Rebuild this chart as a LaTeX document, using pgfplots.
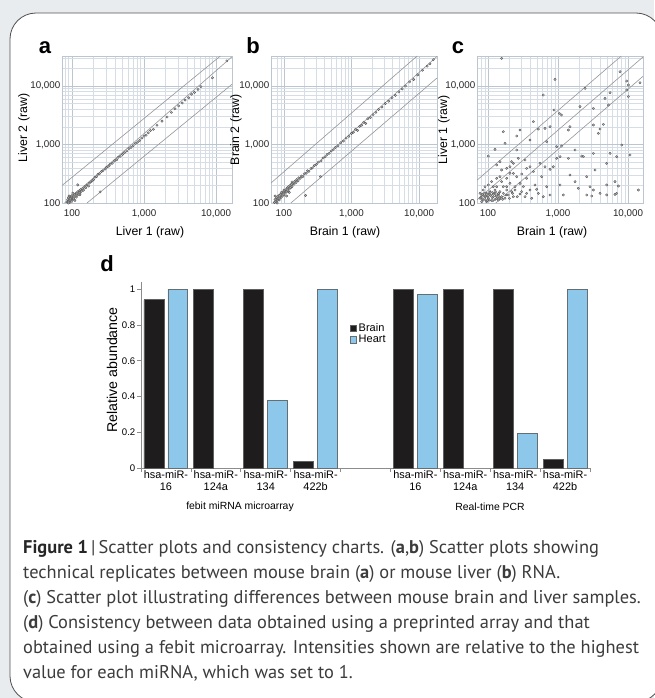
\documentclass[border=0pt]{standalone}
\usepackage{fontspec}
\setmainfont{Liberation Sans}
\newfontfamily\capfont{PT Sans}
\usepackage{pgfplots}
\pgfplotsset{compat=1.18}
\definecolor{bgc}{RGB}{233,236,239}
\definecolor{framec}{RGB}{80,80,80}
\definecolor{gridmaj}{RGB}{188,198,208}
\definecolor{gridmin}{RGB}{214,221,229}
\definecolor{linec}{RGB}{150,150,150}
\definecolor{brainc}{RGB}{30,28,29}
\definecolor{braind}{RGB}{95,95,95}
\definecolor{heartc}{RGB}{141,200,234}
\definecolor{heartd}{RGB}{100,110,115}
\definecolor{axc}{RGB}{140,140,140}
\definecolor{capc}{RGB}{60,60,60}
\pgfplotsset{
  scat/.style={
    scale only axis, anchor=south west, height=147pt,
    ymin=2, ymax=4.513,
    xtick={2,3,4}, ytick={2,3,4},
    xticklabels={100,{1,000},{10,000}},
    yticklabels={100,{1,000},{10,000}},
    minor xtick={1.903,1.954,2.301,2.477,2.602,2.699,2.778,2.845,2.903,2.954,3.301,3.477,3.602,3.699,3.778,3.845,3.903,3.954,4.301,4.477},
    minor ytick={2.301,2.477,2.602,2.699,2.778,2.845,2.903,2.954,3.301,3.477,3.602,3.699,3.778,3.845,3.903,3.954,4.301,4.477},
    grid=both,
    major grid style={draw=gridmaj, line width=0.55pt},
    minor grid style={draw=gridmin, line width=0.45pt},
    axis line style={draw=gridmaj, line width=0.55pt},
    major tick length=0pt, minor tick length=0pt,
    tick label style={font=\fontsize{9.8}{11}\selectfont, text=black!85},
    xticklabel style={yshift=-3.5pt},
    yticklabel style={inner sep=1.5pt},
  },
  pts/.style={only marks, mark=*, mark size=1.2pt,
    mark options={fill=gray!55, draw=black!70, line width=0.3pt}},
  dline/.style={no marks, draw=linec, line width=0.6pt},
}
\begin{document}
\begin{tikzpicture}
\useasboundingbox (0,0) rectangle (654pt,-698pt);
\fill[bgc] (0,0) rectangle (654pt,-698pt);
\draw[fill=white, draw=framec, line width=0.8pt, rounded corners=26pt] (10pt,-13pt) rectangle (662pt,-702pt);

% ---------------- panel a
\begin{axis}[scat, at={(62pt,-203pt)}, width=170pt, xmin=1.861, xmax=4.222]
\addplot[dline] coordinates {(1.861,2.299) (4.061,4.513)};
\addplot[dline] coordinates {(1.897,2.0) (4.222,4.50)};
\addplot[dline] coordinates {(2.208,2.0) (4.222,4.03)};
\addplot[pts] coordinates {
(1.93,2.02) (1.94,2.06) (1.95,2.03) (1.95,2.09) (1.96,2.05) (1.97,2.11) (1.97,2.01) (1.98,2.07)
(1.99,2.12) (2.00,2.05) (2.00,2.09) (2.01,2.14) (2.02,2.10) (2.03,2.06) (2.04,2.15) (2.05,2.12)
(2.06,2.17) (2.07,2.13) (2.08,2.31) (2.08,2.19) (2.09,2.15) (2.10,2.21) (2.11,2.17) (2.12,2.23)
(2.13,2.20) (2.15,2.25) (2.16,2.22) (2.18,2.28) (2.19,2.26) (2.21,2.31) (2.23,2.29) (2.24,2.34)
(2.26,2.36) (2.28,2.38) (2.30,2.40) (2.32,2.44) (2.34,2.45) (2.36,2.49) (2.38,2.50) (2.39,2.19)
(2.41,2.54) (2.43,2.55) (2.46,2.58) (2.48,2.61) (2.51,2.63) (2.53,2.66) (2.56,2.68) (2.59,2.72)
(2.62,2.74) (2.64,2.78) (2.67,2.80) (2.70,2.83) (2.73,2.86) (2.76,2.89) (2.79,2.93) (2.82,2.95)
(2.85,2.98) (2.88,3.02) (2.91,3.04) (2.94,3.07) (2.97,3.11) (3.00,3.14) (3.03,3.16) (3.06,3.20)
(3.09,3.24) (3.13,3.26) (3.18,3.33) (3.25,3.40) (3.32,3.47) (3.38,3.55) (3.43,3.61) (3.48,3.66)
(3.53,3.71) (3.57,3.76) (3.62,3.80) (3.66,3.86) (3.70,3.89) (3.75,3.94) (3.79,3.99) (3.95,4.14)
(4.15,4.43)
(1.95,2.00) (1.99,2.03) (2.02,2.07) (2.04,2.04) (1.96,2.12) (2.01,2.17) (2.06,2.10) (2.11,2.14)
};
\end{axis}

% ---------------- panel b
\begin{axis}[scat, at={(271pt,-203pt)}, width=166pt, xmin=1.809, xmax=4.265]
\addplot[dline] coordinates {(1.809,2.342) (3.971,4.513)};
\addplot[dline] coordinates {(1.837,2.0) (4.265,4.506)};
\addplot[dline] coordinates {(2.103,2.0) (4.265,4.137)};
\addplot[pts] coordinates {
(1.86,2.01) (1.87,2.06) (1.88,2.03) (1.89,2.09) (1.90,2.04) (1.91,2.11) (1.92,2.07) (1.93,2.13)
(1.94,2.08) (1.95,2.15) (1.96,2.10) (1.97,2.17) (1.98,2.12) (1.99,2.19) (2.00,2.14) (2.01,2.21)
(2.02,2.17) (2.03,2.23) (2.04,2.19) (2.05,2.26) (2.06,2.21) (2.07,2.28) (2.08,2.24) (2.09,2.30)
(2.10,2.26) (2.11,2.32) (2.12,2.28) (2.13,2.34) (2.15,2.32) (2.16,2.37) (2.18,2.35) (2.19,2.40)
(2.21,2.38) (2.22,2.43) (2.24,2.42) (2.26,2.46) (2.28,2.45) (2.30,2.50) (2.32,2.13) (2.33,2.51)
(2.35,2.55) (2.37,2.54) (2.40,2.59) (2.42,2.60) (2.45,2.64) (2.48,2.66) (2.51,2.70) (2.54,2.45)
(2.55,2.72) (2.58,2.77) (2.61,2.79) (2.64,2.83) (2.67,2.85) (2.70,2.89) (2.73,2.91) (2.76,2.95)
(2.80,2.98) (2.84,3.03) (2.88,3.06) (2.92,3.11) (2.96,3.14) (3.00,3.19) (3.03,3.21) (3.06,3.26)
(3.09,3.24) (3.12,3.31) (3.15,3.33) (3.18,3.38) (3.21,3.36) (3.24,3.44) (3.28,3.46) (3.32,3.51)
(3.36,3.55) (3.40,3.60) (3.45,3.64) (3.50,3.70) (3.55,3.74) (3.60,3.80) (3.65,3.84) (3.70,3.90)
(3.75,3.95) (3.80,4.00) (3.86,4.07) (3.92,4.11) (3.98,4.19) (4.05,4.27) (4.12,4.34) (4.16,4.38)
(4.21,4.45)
(1.87,2.12) (1.90,2.00) (1.93,2.05) (1.96,2.18) (2.00,2.22) (2.04,2.12) (2.08,2.18) (2.12,2.36)
};
\end{axis}

% ---------------- panel c
\begin{axis}[scat, at={(477pt,-203pt)}, width=166pt, xmin=1.843, xmax=4.214]
\addplot[dline] coordinates {(1.843,2.39) (3.904,4.513)};
\addplot[dline] coordinates {(1.843,2.054) (4.214,4.496)};
\addplot[dline] coordinates {(2.111,2.0) (4.214,4.166)};
\addplot[pts] coordinates {
(2.195,4.473) (2.957,4.114) (3.886,4.245) (3.981,4.085) (4.171,4.057) (4.005,4.017) (3.981,3.932)
(4.005,3.818) (3.386,3.960) (3.743,3.886) (3.671,3.789) (3.720,3.675) (2.790,3.846) (2.943,3.590)
(3.050,3.504) (3.019,3.533) (3.314,3.647) (3.505,3.618) (2.648,3.390) (2.719,3.265) (2.814,3.276)
(2.886,3.305) (3.171,3.305) (3.148,3.248) (3.505,3.333) (3.648,3.345) (3.600,3.265) (3.576,3.191)
(2.219,3.219) (2.457,3.248) (2.243,3.020) (2.410,3.145) (2.600,3.077) (2.838,3.048) (2.981,2.963)
(3.050,2.974) (3.910,2.991) (3.243,2.906) (3.505,2.849) (3.743,2.849) (2.100,2.917) (2.005,2.803)
(2.124,2.650) (2.362,2.678) (2.433,2.764) (2.529,2.735) (2.267,2.593) (2.600,2.621) (2.743,2.678)
(2.814,2.621) (2.933,2.621) (2.981,2.764) (3.029,2.792) (3.148,2.764) (3.338,2.803) (3.362,2.792)
(2.362,2.507) (2.410,2.450) (2.481,2.496) (2.552,2.422) (2.648,2.536) (2.767,2.450) (2.886,2.575)
(3.171,2.479) (3.410,2.450) (3.529,2.564) (3.695,2.678) (3.838,2.792) (4.029,2.821) (3.457,2.279)
(2.195,2.365) (2.124,2.279) (2.267,2.279) (2.457,2.336) (2.671,2.308) (2.695,2.234) (2.838,2.279)
(3.029,2.308) (3.243,2.365) (3.290,2.251) (3.410,2.137) (3.481,2.120) (3.695,2.308) (3.814,2.148)
(3.862,2.291) (3.695,2.137) (3.600,2.165) (3.505,2.222) (3.076,2.137) (2.886,2.137) (2.790,2.108)
(2.552,2.165) (2.457,2.154) (2.386,2.222) (4.148,2.222) (3.838,2.165) (3.814,2.365)
(1.886,2.080) (1.910,2.137) (1.933,2.051) (1.957,2.108) (1.981,2.165) (1.981,2.023) (2.005,2.080)
(2.029,2.137) (2.029,2.194) (2.052,2.040) (2.076,2.108) (2.100,2.165) (2.100,2.222) (2.124,2.080)
(2.148,2.137) (2.148,2.051) (2.171,2.194) (2.195,2.108) (2.219,2.165) (2.219,2.279) (2.243,2.080)
(2.267,2.222) (2.290,2.137) (2.314,2.336) (2.338,2.194) (2.362,2.108) (2.386,2.279) (1.933,2.222)
(1.957,2.279) (2.005,2.308) (2.052,2.365) (2.076,2.279) (2.124,2.422) (2.171,2.450) (2.267,2.422)
(2.314,2.507) (1.886,2.165) (1.910,2.023) (1.971,2.120) (2.019,2.154) (2.067,2.177) (2.114,2.120)
(2.162,2.097) (2.210,2.063) (2.257,2.137) (2.305,2.080) (2.352,2.165) (2.419,2.108) (2.481,2.194)
(2.505,2.279) (2.529,2.108) (2.600,2.222) (2.624,2.080) (2.719,2.165) (2.314,2.621) (2.552,2.593)
(2.195,2.564) (2.171,2.707) (2.410,2.906) (2.338,2.707)
(1.90,2.10) (1.92,2.07) (1.94,2.12) (1.96,2.06) (1.98,2.14) (2.00,2.10) (2.02,2.05) (2.04,2.13)
(2.06,2.09) (2.08,2.15) (2.10,2.06) (2.12,2.12) (1.95,2.17) (1.99,2.04) (2.03,2.18) (2.07,2.04)
(2.11,2.19) (1.92,2.15) (2.15,2.16) (2.17,2.07)
};
\end{axis}

% ---------------- panel d
\begin{axis}[
  at={(141pt,-468pt)}, anchor=south west,
  scale only axis, width=449pt, height=186pt,
  xmin=-0.5, xmax=8.5, ymin=0, ymax=1.04,
  axis x line*=bottom, axis y line*=left,
  axis line style={draw=axc, line width=0.8pt},
  xtick={-0.5,0.5,1.5,2.5,3.5,4.5,5.5,6.5,7.5,8.5},
  xticklabels={},
  extra x ticks={0,1,2,3,5,6,7,8},
  extra x tick labels={{hsa-miR-\\16},{hsa-miR-\\124a},{hsa-miR-\\134},{hsa-miR-\\422b},{hsa-miR-\\16},{hsa-miR-\\124a},{hsa-miR-\\134},{hsa-miR-\\422b}},
  extra x tick style={major tick length=0pt},
  xticklabel style={align=center, font=\fontsize{10.9}{12.6}\selectfont, inner sep=2pt},
  ytick={0,0.2,0.4,0.6,0.8,1},
  yticklabels={0,0.2,0.4,0.6,0.8,1},
  yticklabel style={font=\fontsize{9.6}{11}\selectfont, inner sep=1.5pt},
  tick align=outside, major tick length=4pt,
  tick style={draw=axc, line width=0.7pt},
  legend style={at={(0.462,0.795)}, anchor=north west, draw=none, fill=none,
    font=\fontsize{11}{12}\selectfont, row sep=-1.5pt, inner sep=1pt},
  legend cell align=left,
]
\addplot[ybar, bar width=0.4, bar shift=-0.24, fill=brainc, draw=braind, line width=0.8pt,
  legend image code/.code={\draw[fill=brainc, draw=braind, line width=0.5pt] (0pt,-3.3pt) rectangle (6.6pt,3.3pt);}]
  coordinates {(0,0.94) (1,1) (2,1) (3,0.035) (5,1) (6,1) (7,1) (8,0.05)};
\addlegendentry{Brain}
\addplot[ybar, bar width=0.4, bar shift=0.24, fill=heartc, draw=heartd, line width=0.8pt,
  legend image code/.code={\draw[fill=heartc, draw=heartd, line width=0.5pt] (0pt,-3.3pt) rectangle (6.6pt,3.3pt);}]
  coordinates {(0,1) (2,0.38) (3,1) (5,0.97) (7,0.195) (8,1)};
\addlegendentry{Heart}
\end{axis}

% ---------------- labels
\node[font=\fontsize{22}{22}\selectfont\bfseries] at (45pt,-48pt) {a};
\node[font=\fontsize{22}{22}\selectfont\bfseries] at (253pt,-46pt) {b};
\node[font=\fontsize{22}{22}\selectfont\bfseries] at (458pt,-48pt) {c};
\node[font=\fontsize{22}{22}\selectfont\bfseries] at (107pt,-264pt) {d};

\node[font=\fontsize{12.3}{14}\selectfont] at (150pt,-232pt) {Liver 1 (raw)};
\node[font=\fontsize{12.3}{14}\selectfont, rotate=90] at (24pt,-128pt) {Liver 2 (raw)};
\node[font=\fontsize{12.3}{14}\selectfont] at (345pt,-232pt) {Brain 1 (raw)};
\node[font=\fontsize{12.3}{14}\selectfont, rotate=90] at (236pt,-130pt) {Brain 2 (raw)};
\node[font=\fontsize{12.3}{14}\selectfont] at (552pt,-232pt) {Brain 1 (raw)};
\node[font=\fontsize{12.3}{14}\selectfont, rotate=90] at (444pt,-130pt) {Liver 1 (raw)};

\node[font=\fontsize{14.2}{16}\selectfont, rotate=90] at (112pt,-370pt) {Relative abundance};
\node[font=\fontsize{10.4}{12}\selectfont] at (240pt,-507pt) {febit miRNA microarray};
\node[font=\fontsize{10.4}{12}\selectfont] at (490pt,-507pt) {Real-time PCR};

% ---------------- caption
\begin{scope}[every node/.style={anchor=base west, inner sep=0pt, text=capc, font=\capfont\fontsize{18.4}{25}\selectfont}]
\node at (23pt,-553pt) {\textbf{\color{black!85}Figure 1}\,|\,Scatter plots and consistency charts. (\textbf{a},\textbf{b}) Scatter plots showing};
\node at (23pt,-578pt) {technical replicates between mouse brain (\textbf{a}) or mouse liver (\textbf{b}) RNA.};
\node at (23pt,-603pt) {(\textbf{c}) Scatter plot illustrating differences between mouse brain and liver samples.};
\node at (23pt,-628pt) {(\textbf{d}) Consistency between data obtained using a preprinted array and that};
\node at (23pt,-653pt) {obtained using a febit microarray. Intensities shown are relative to the highest};
\node at (23pt,-678pt) {value for each miRNA, which was set to 1.};
\end{scope}
\end{tikzpicture}
\end{document}
